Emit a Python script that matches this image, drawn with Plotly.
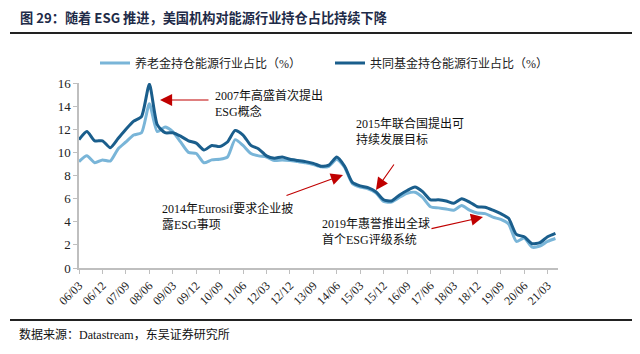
import plotly.graph_objects as go

dates = [
    "2006-03", "2006-06", "2006-09", "2006-12", "2007-03", "2007-06", "2007-09", "2007-12",
    "2008-03", "2008-06", "2008-09", "2008-12", "2009-03", "2009-06", "2009-09", "2009-12",
    "2010-03", "2010-06", "2010-09", "2010-12", "2011-03", "2011-06", "2011-09", "2011-12",
    "2012-03", "2012-06", "2012-09", "2012-12", "2013-03", "2013-06", "2013-09", "2013-12",
    "2014-03", "2014-06", "2014-09", "2014-12", "2015-03", "2015-06", "2015-09", "2015-12",
    "2016-03", "2016-06", "2016-09", "2016-12", "2017-03", "2017-06", "2017-09", "2017-12",
    "2018-03", "2018-06", "2018-09", "2018-12", "2019-03", "2019-06", "2019-09", "2019-12",
    "2020-03", "2020-06", "2020-09", "2020-12", "2021-03", "2021-06",
]

pension = [
    9.2, 9.7, 9.1, 9.35, 9.25, 10.3, 10.9, 11.5,
    11.7, 14.2, 11.8, 12.2, 11.8, 10.9, 10.0, 9.9,
    9.1, 9.35, 9.4, 9.6, 11.1, 10.6, 9.9, 9.7,
    9.6, 9.3, 9.35, 9.3, 9.2, 9.1, 8.95, 8.75,
    8.8, 9.4, 8.7, 7.3, 7.0, 6.85, 6.5, 5.75,
    5.7, 6.1, 6.45, 6.55, 6.1, 5.3, 5.2, 5.1,
    5.0, 5.4, 5.0, 4.75, 4.7, 4.4, 4.2, 3.8,
    2.3, 2.6, 1.8, 1.9, 2.3, 2.55,
]

mutual = [
    11.1, 11.8, 11.0, 11.0, 10.4, 11.2, 12.0, 12.7,
    13.1, 15.9, 12.4, 11.7, 11.7, 11.4, 11.0, 10.8,
    10.2, 10.6, 10.5, 10.9, 11.9, 11.5, 10.6, 10.3,
    9.7, 9.5, 9.6, 9.4, 9.3, 9.2, 9.05, 8.8,
    8.9, 9.6, 8.8, 7.4, 7.1, 6.95, 6.6, 5.9,
    5.8, 6.3, 6.7, 7.0, 6.6, 5.9, 5.9, 5.8,
    5.6, 6.0, 5.7, 5.3, 5.25, 5.0, 4.7, 4.3,
    2.9, 2.7, 2.1, 2.2, 2.7, 3.0,
]

series_names = ["养老金持仓能源行业占比（%）", "共同基金持仓能源行业占比（%）"]

note_texts = [
    "2007年高盛首次提出<br>ESG概念",
    "2014年Eurosif要求企业披<br>露ESG事项",
    "2015年联合国提出可<br>持续发展目标",
    "2019年惠誉推出全球<br>首个ESG评级系统",
]

W, H = 640, 354
L, R, T, B = 79, 82, 83, 86
PW, PH = W - L - R, H - T - B
x0d, x1d = "2006-03-01", "2021-07-01"

serif = "Liberation Serif, Noto Sans CJK SC, serif"


def pxx(px):
    return (px - L) / PW


def pxy(py):
    return (H - B - py) / PH


fig = go.Figure()
fig.add_trace(go.Scatter(x=dates, y=pension, name=series_names[0], mode="lines",
                         legend="legend",
                         line=dict(color="#79B5D8", width=3, shape="spline", smoothing=0.6)))
fig.add_trace(go.Scatter(x=dates, y=mutual, name=series_names[1], mode="lines",
                         legend="legend2",
                         line=dict(color="#1A5E8C", width=3, shape="spline", smoothing=0.6)))

# layout positions (pixels) for the call-outs: arrow tip, arrow tail, text anchor
callouts = [
    dict(tip=(160, 100), tail=(210, 100), text_xy=(213, 104)),
    dict(tip=(343, 175), tail=(285, 196), text_xy=(160, 216)),
    dict(tip=(376, 190), tail=(395, 163), text_xy=(354, 131)),
    dict(tip=(483, 217), tail=(430, 229), text_xy=(320, 231)),
]

for spec, txt in zip(callouts, note_texts):
    (tx, ty), (ax, ay) = spec["tip"], spec["tail"]
    fig.add_annotation(x=pxx(tx), y=pxy(ty), xref="paper", yref="paper", text="",
                       showarrow=True, ax=ax - tx, ay=ay - ty, arrowhead=2,
                       arrowsize=2.2, arrowwidth=1.1, arrowcolor="#C00000", standoff=0)
    fig.add_annotation(x=pxx(spec["text_xy"][0]), y=pxy(spec["text_xy"][1]),
                       xref="paper", yref="paper", text=txt, showarrow=False,
                       xanchor="left", yanchor="middle", align="left",
                       font=dict(family=serif, size=12, color="#111111"))

# title, rules, source
fig.add_annotation(x=pxx(18), y=pxy(17), xref="paper", yref="paper",
                   text="<b>图 29：随着 ESG 推进，美国机构对能源行业持仓占比持续下降</b>",
                   showarrow=False, xanchor="left", yanchor="middle",
                   font=dict(family="Noto Sans CJK SC, sans-serif", size=13.2, color="#1E2B48"))
fig.add_shape(type="line", xref="paper", yref="paper", x0=pxx(10), x1=pxx(632),
              y0=pxy(33), y1=pxy(33), line=dict(color="#222222", width=2))
fig.add_shape(type="line", xref="paper", yref="paper", x0=pxx(10), x1=pxx(632),
              y0=pxy(320), y1=pxy(320), line=dict(color="#222222", width=2))
fig.add_annotation(x=pxx(17), y=pxy(334), xref="paper", yref="paper",
                   text="数据来源：Datastream，东吴证券研究所",
                   showarrow=False, xanchor="left", yanchor="middle",
                   font=dict(family=serif, size=12, color="#111111"))

legend_common = dict(orientation="h", yanchor="middle", xanchor="left",
                     bgcolor="rgba(0,0,0,0)",
                     font=dict(family=serif, size=12, color="#222222"),
                     itemwidth=30, tracegroupgap=0)

fig.update_layout(
    width=W, height=H,
    margin=dict(l=L, r=R, t=T, b=B, autoexpand=False),
    paper_bgcolor="white", plot_bgcolor="white",
    showlegend=True,
    legend=dict(x=pxx(95), y=pxy(63), **legend_common),
    legend2=dict(x=pxx(330), y=pxy(63), **legend_common),
    font=dict(family=serif, size=12, color="#222222"),
)
fig.update_xaxes(type="date", range=[x0d, x1d], tick0="2006-03-01", dtick="M9",
                 tickformat="%y/%m", tickangle=-45, showgrid=False, zeroline=False,
                 showline=True, linecolor="#BFBFBF", linewidth=1.5,
                 ticks="outside", ticklen=4, tickcolor="#BFBFBF",
                 tickfont=dict(family=serif, size=12, color="#222222"))
fig.update_yaxes(range=[0, 16], dtick=2, showgrid=False, zeroline=False,
                 showline=True, linecolor="#BFBFBF", linewidth=1.5,
                 ticks="outside", ticklen=4, tickcolor="#BFBFBF",
                 tickfont=dict(family=serif, size=13, color="#222222"))

fig.write_html("out.html")
